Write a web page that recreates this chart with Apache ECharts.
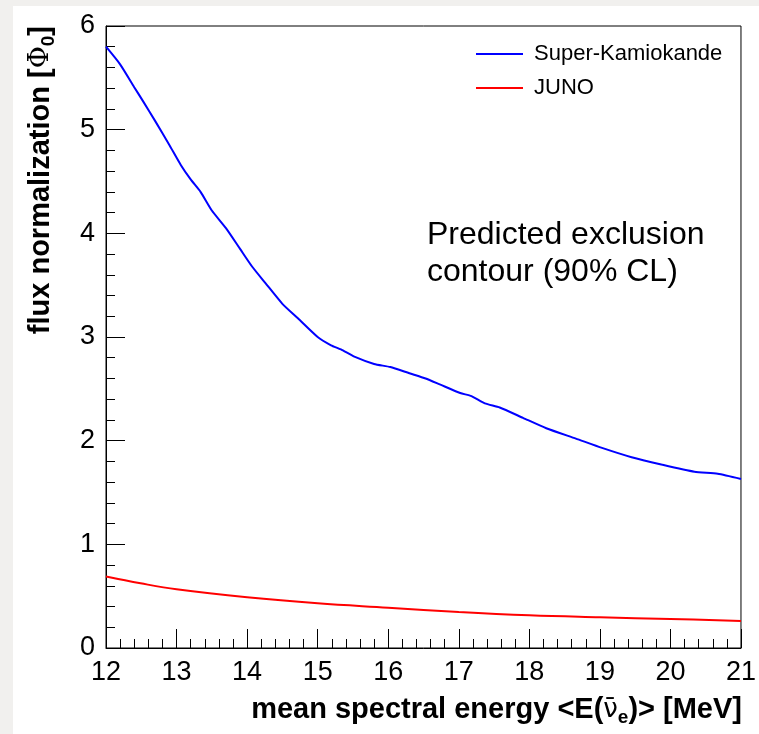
<!DOCTYPE html>
<html>
<head>
<meta charset="utf-8">
<script src="https://cdn.jsdelivr.net/npm/echarts@6/dist/echarts.min.js"></script>
<style>
	html, body { margin: 0; padding: 0; }
	#chart { width: 759px; height: 734px; }
</style>
</head>
<body>
<div id="chart"></div>
<script>
const skEnergy = [12.0, 12.2, 12.4, 12.52, 12.7, 12.9, 13.06, 13.2, 13.34, 13.5, 13.7, 13.9, 14.07, 14.26, 14.5, 14.72, 15.0, 15.19, 15.33, 15.52, 15.8, 16.03, 16.3, 16.53, 16.74, 17.02, 17.18, 17.37, 17.58, 17.91, 18.24, 18.66, 19.03, 19.45, 19.87, 20.34, 20.67, 21.0],
	skFlux = [5.8, 5.63, 5.41, 5.28, 5.08, 4.85, 4.66, 4.52, 4.4, 4.22, 4.05, 3.85, 3.68, 3.52, 3.32, 3.18, 3.0, 2.92, 2.88, 2.81, 2.74, 2.71, 2.65, 2.6, 2.54, 2.46, 2.43, 2.36, 2.32, 2.22, 2.12, 2.02, 1.93, 1.84, 1.77, 1.7, 1.68, 1.63],
	junoEnergy = [12.0, 12.49, 13.0, 14.0, 15.0, 16.0, 17.0, 18.0, 19.0, 20.0, 21.0],
	junoFlux = [0.69, 0.624, 0.566, 0.489, 0.431, 0.389, 0.347, 0.315, 0.296, 0.28, 0.26],
	seriesNames = ['Super-Kamiokande', 'JUNO'],
	noteLines = ['Predicted exclusion', 'contour (90% CL)'];

const font = '"Liberation Sans", Arial, Helvetica, sans-serif',
	zip = (xs, ys) => xs.map((x, i) => [x, ys[i]]),
	tickStyle = { color: '#000', width: 1 },
	// ROOT style axis titles: bold helvetica, greek from the symbol font, lowered subscripts
	titleRich = {
		t: { fontSize: 29, fontWeight: 'bold', fontFamily: font, lineHeight: 34 },
		phi: { fontSize: 27, fontFamily: '"DejaVu Serif", serif', lineHeight: 34 },
		nu: { fontSize: 26, fontFamily: '"DejaVu Sans", sans-serif', lineHeight: 34 },
		sub: { fontSize: 19, fontWeight: 'bold', fontFamily: font, lineHeight: 13, verticalAlign: 'bottom' },
	};

const chart = echarts.init(document.getElementById('chart'), null, { renderer: 'canvas' });

chart.setOption({
	backgroundColor: '#f1f0ee',
	animation: false,
	textStyle: { fontFamily: font },
	grid: {
		left: 106, top: 26, right: 12, bottom: 86,
		show: true, borderColor: '#000', borderWidth: 1, backgroundColor: '#fff',
	},
	legend: {
		orient: 'vertical',
		left: 476, top: 43, padding: 0,
		icon: 'rect',
		itemWidth: 47, itemHeight: 2, itemGap: 12,
		textStyle: { fontSize: 22, color: '#000', lineHeight: 22, padding: [0, 0, 0, 6], fontFamily: font },
		data: seriesNames,
	},
	xAxis: {
		type: 'value', min: 12, max: 21, interval: 1,
		axisLine: { onZero: false, lineStyle: tickStyle },
		axisTick: { inside: true, length: 19, lineStyle: tickStyle },
		minorTick: { show: true, splitNumber: 5, length: 9, lineStyle: tickStyle },
		splitLine: { show: false },
		axisLabel: { fontSize: 27, color: '#000', margin: 11, fontFamily: font },
	},
	yAxis: {
		type: 'value', min: 0, max: 6, interval: 1,
		axisLine: { show: true, lineStyle: tickStyle },
		axisTick: { show: true, inside: true, length: 19, lineStyle: tickStyle },
		minorTick: { show: true, splitNumber: 5, length: 9, lineStyle: tickStyle },
		splitLine: { show: false },
		axisLabel: { fontSize: 27, color: '#000', margin: 11, fontFamily: font },
	},
	graphic: [
		// white pad, ROOT canvas leaves a thin grey strip top/left
		{ type: 'rect', silent: true, z: -100, shape: { x: 13, y: 6, width: 746, height: 728 }, style: { fill: '#fff' } },
		{
			type: 'text', x: 427, y: 217,
			style: {
				text: noteLines.join('\n'), font: '32px ' + font, lineHeight: 37,
				fill: '#000', textAlign: 'left', textVerticalAlign: 'top',
			},
		},
		{
			type: 'text', x: 742, y: 710,
			style: {
				text: '{t|mean spectral energy <E(}{nu|ν\u0304}{sub|e}{t|)> [MeV]}',
				textAlign: 'right', textVerticalAlign: 'middle', fill: '#000',
				rich: titleRich,
			},
		},
		{
			type: 'text', x: 41, y: 26, rotation: Math.PI / 2,
			style: {
				text: '{t|flux normalization [}{phi|Φ}{sub|0}{t|]}',
				textAlign: 'right', textVerticalAlign: 'middle', fill: '#000',
				rich: titleRich,
			},
		},
	],
	series: [
		{
			name: seriesNames[0], type: 'line', showSymbol: false, smooth: 0.2,
			itemStyle: { color: '#0000ff' }, lineStyle: { color: '#0000ff', width: 2 },
			data: zip(skEnergy, skFlux),
		},
		{
			name: seriesNames[1], type: 'line', showSymbol: false, smooth: 0.4,
			itemStyle: { color: '#ff0000' }, lineStyle: { color: '#ff0000', width: 2 },
			data: zip(junoEnergy, junoFlux),
		},
	],
});
</script>
</body>
</html>
